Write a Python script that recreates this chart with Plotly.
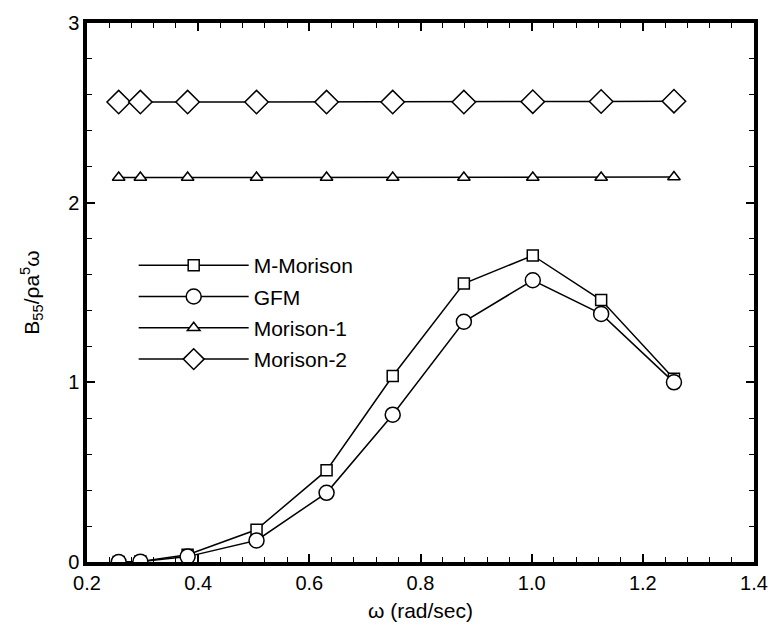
import plotly.graph_objects as go

omega = [0.257, 0.296, 0.381, 0.505, 0.631, 0.750, 0.878, 1.002, 1.125, 1.256]
m_morison = [0.0, 0.003, 0.04, 0.18, 0.51, 1.035, 1.55, 1.706, 1.458, 1.02]
gfm = [0.0, 0.002, 0.03, 0.12, 0.385, 0.82, 1.337, 1.568, 1.381, 1.0]
morison1 = [2.14, 2.14, 2.14, 2.14, 2.14, 2.14, 2.14, 2.14, 2.14, 2.143]
morison2 = [2.56, 2.56, 2.56, 2.56, 2.56, 2.56, 2.56, 2.562, 2.563, 2.565]

series = [
    ("M-Morison", m_morison, "square", 11),
    ("GFM", gfm, "circle", 15),
    ("Morison-1", morison1, "triangle-up", 11),
    ("Morison-2", morison2, "diamond", 18),
]

fig = go.Figure()
for name, ys, sym, sz in series:
    fig.add_trace(go.Scatter(
        x=omega, y=ys, name=name, mode="lines+markers", legendgroup=name,
        line=dict(color="black", width=1.5),
        marker=dict(symbol=sym, size=sz, color="white",
                    line=dict(color="black", width=1.5)),
    ))

font = dict(family="Liberation Sans, Arial, sans-serif", size=21, color="black")

axis_common = dict(
    showline=True, linecolor="black", linewidth=3.5, mirror="allticks",
    ticks="inside", ticklen=8, tickwidth=1.5, tickcolor="black",
    showgrid=False, zeroline=False, tickfont=dict(size=20),
)

fig.update_xaxes(
    range=[0.2, 1.4], tick0=0.2, dtick=0.2, tickformat=".1f",
    minor=dict(ticks="inside", ticklen=5, tickwidth=1, dtick=0.04, tick0=0.2, tickcolor="black"),
    title=dict(text="ω (rad/sec)", standoff=12, font=dict(size=21)),
    **axis_common,
)
fig.update_yaxes(
    range=[0, 3], tick0=0, dtick=1,
    minor=dict(ticks="inside", ticklen=5, tickwidth=1, dtick=0.2, tick0=0, tickcolor="black"),
    title=dict(text="B<sub>55</sub>/ρa<sup>5</sup>ω", standoff=24, font=dict(size=21)),
    **axis_common,
)

fig.update_layout(
    width=780, height=635,
    margin=dict(l=87, r=17, t=17, b=73),
    paper_bgcolor="white", plot_bgcolor="white",
    font=font,
    showlegend=True,
    legend=dict(x=0.07, y=0.588, xanchor="left", yanchor="top",
                bgcolor="rgba(0,0,0,0)", itemwidth=110,
                font=dict(size=21), tracegroupgap=1),
)

fig.write_html("out.html")
